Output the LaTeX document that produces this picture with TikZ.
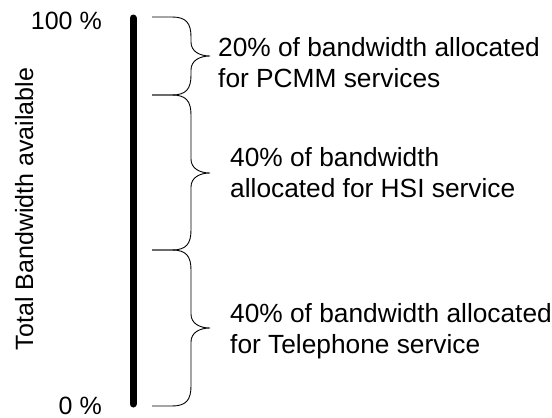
\documentclass[tikz,border=0pt]{standalone}
\usepackage{fontspec}
\setmainfont{Liberation Sans}
\begin{document}
\begin{tikzpicture}[x=1pt,y=-1pt,
  bracestyle/.style={draw=black,line width=0.9pt},
  barstyle/.style={line width=7pt,line cap=round},
  label/.style={inner sep=0pt,align=left,anchor=west,font=\fontsize{26.3}{31}\selectfont},
  pct/.style={inner sep=0pt,anchor=base east,font=\fontsize{25}{30}\selectfont}]
\useasboundingbox (0,0) rectangle (552,418);
\coordinate (top) at (133,18);
\coordinate (bot) at (133,404);
\draw[barstyle] (top) -- (bot);
\node[pct] (p100) at (102,29) {100 \%};
\node[pct] (p0) at (102,414) {0 \%};
\node[inner sep=0pt,anchor=base,rotate=90,font=\fontsize{25}{30}\selectfont] (axis) at (33,209) {Total Bandwidth available};
\foreach \a/\m/\b in {17/56/95, 95/173/250, 250/328/406} {
  \draw[bracestyle] (152,\a) -- (172,\a) .. controls (186,\a) and (191,\a+6) .. (191,\a+20)
    -- (191,\m-14) .. controls (191,\m-5) and (199,\m) .. (210,\m)
    .. controls (199,\m) and (191,\m+5) .. (191,\m+14)
    -- (191,\b-20) .. controls (191,\b-6) and (186,\b) .. (172,\b) -- (152,\b);
}
\node[label] (l1) at (218,65.5) {\strut 20\% of bandwidth allocated\\\strut for PCMM services};
\node[label] (l2) at (230,176) {\strut 40\% of bandwidth\\\strut allocated for HSI service};
\node[label] (l3) at (230,331.5) {\strut 40\% of bandwidth allocated\\\strut for Telephone service};
\end{tikzpicture}
\end{document}
